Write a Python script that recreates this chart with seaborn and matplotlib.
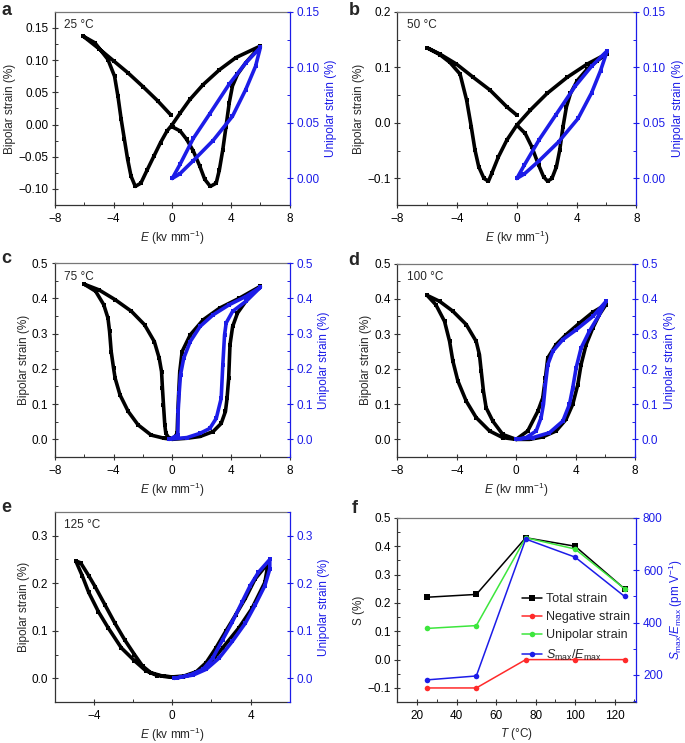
import numpy as np
import pandas as pd
import matplotlib
matplotlib.use("Agg")
import matplotlib.pyplot as plt
from matplotlib.ticker import AutoMinorLocator, MultipleLocator, FuncFormatter
from matplotlib.lines import Line2D
import seaborn as sns

BLUE = "#1c1ce8"

# ---- panel a, 25 C (bipolar loop path, unipolar loop path) ----
a_bi_E = [0.04, 0.54, 0.98, 1.43, 1.88, 2.21, 2.59, 2.99, 3.21, 3.44, 3.66, 3.88, 4.1, 4.44, 5.0, 6.0,
          4.33, 3.21, 2.1, 1.2, 0.54, 0.0, -0.36, -0.8, -1.25, -1.7, -2.14, -2.52, -2.81, -3.04, -3.26,
          -3.48, -3.7, -3.93, -4.38, -5.27, -6.05,
          -5.0, -4.0, -3.0, -2.0, -1.0, -0.1]
a_bi_S = [-0.004, -0.01, -0.023, -0.041, -0.065, -0.085, -0.096, -0.091, -0.07, -0.039, -0.003, 0.034, 0.06, 0.078, 0.096, 0.122,
          0.104, 0.085, 0.062, 0.039, 0.018, 0.0, -0.01, -0.028, -0.049, -0.07, -0.091, -0.096, -0.08, -0.054, -0.023,
          0.008, 0.044, 0.075, 0.101, 0.127, 0.137,
          0.118, 0.099, 0.080, 0.059, 0.037, 0.015]
a_uni_E = [0, 0.5, 1.43, 2.77, 4.1, 5.0, 5.67, 6.0, 5.0, 3.88, 2.54, 1.43, 0.54, 0]
a_uni_S = [0, 0.004, 0.016, 0.034, 0.056, 0.08, 0.101, 0.118, 0.104, 0.085, 0.058, 0.036, 0.013, 0]

# ---- panel b, 50 C ----
b_bi_E = [0, 0.56, 1.0, 1.46, 1.79, 2.06, 2.35, 2.65, 2.87, 3.09, 3.32, 3.59, 4.04, 4.71, 5.38, 6.05,
          4.71, 3.36, 2.02, 0.9, 0, -0.67, -1.23, -1.68, -1.9, -2.2, -2.55, -2.8, -3.05, -3.36, -3.8,
          -4.48, -5.15, -5.98,
          -5.15, -4.04, -2.91, -1.79, -0.67, 0]
b_bi_S = [-0.004, -0.019, -0.043, -0.076, -0.097, -0.105, -0.1, -0.079, -0.049, -0.007, 0.029, 0.053, 0.076, 0.097, 0.112, 0.125,
          0.106, 0.082, 0.053, 0.023, -0.004, -0.031, -0.061, -0.091, -0.105, -0.1, -0.079, -0.049, -0.007, 0.041, 0.088,
          0.109, 0.123, 0.135,
          0.124, 0.106, 0.082, 0.059, 0.029, 0.014]
b_uni_E = [0, 0.5, 1.5, 2.8, 4.1, 5.0, 5.6, 6.05, 5.0, 3.9, 2.6, 1.5, 0.5, 0]
b_uni_S = [0, 0.004, 0.016, 0.033, 0.054, 0.077, 0.097, 0.115, 0.101, 0.083, 0.057, 0.035, 0.012, 0]

# ---- panel c, 75 C ----
c_bi_E = [0, 1.0, 1.89, 2.78, 3.33, 3.62, 3.73, 3.84, 3.93, 4.11, 4.44, 5.0, 6.0,
          4.56, 3.22, 2.11, 1.22, 0.67, 0.51, 0.44, 0.38, 0.33, 0.11, 0,
          -0.56, -1.44, -2.33, -3.0, -3.56, -3.89, -4.0, -4.16, -4.27, -4.38, -4.67, -5.22, -6.0,
          -5.0, -3.89, -2.78, -1.89, -1.22, -0.89, -0.73, -0.67, -0.6, -0.51, -0.44, -0.22, 0]
c_bi_S = [0, 0.003, 0.008, 0.022, 0.045, 0.079, 0.116, 0.173, 0.268, 0.32, 0.358, 0.391, 0.434,
          0.40, 0.372, 0.339, 0.296, 0.249, 0.192, 0.135, 0.079, 0.017, 0.003, 0,
          0.003, 0.012, 0.041, 0.079, 0.126, 0.173, 0.202, 0.249, 0.306, 0.344, 0.382, 0.42, 0.44,
          0.424, 0.396, 0.363, 0.325, 0.277, 0.23, 0.192, 0.145, 0.098, 0.041, 0.017, 0.003, 0]
c_uni_E = [-0.22, 1.0, 1.89, 2.56, 3.0, 3.33, 3.44, 3.56, 3.67, 4.11, 5.0, 6.0,
           5.0, 3.89, 2.78, 1.89, 1.22, 0.78, 0.56, 0.47, 0.4, 0.38, -0.22]
c_uni_S = [0, 0.005, 0.017, 0.031, 0.06, 0.116, 0.211, 0.296, 0.33, 0.363, 0.391, 0.431,
           0.405, 0.382, 0.353, 0.32, 0.277, 0.23, 0.183, 0.131, 0.079, 0.012, 0]

# ---- panel d, 100 C ----
d_bi_E = [0, 0.9, 1.79, 2.69, 3.36, 3.81, 4.15, 4.37, 4.71, 5.16, 5.6, 6.05,
          5.16, 4.26, 3.36, 2.69, 2.13, 1.97, 1.79, 1.46, 0.78, 0,
          -0.9, -1.79, -2.69, -3.36, -3.92, -4.26, -4.48, -4.82, -5.4, -5.99,
          -5.15, -4.26, -3.36, -2.69, -2.47, -2.35, -2.2, -2.02, -1.57, -0.9, 0]
d_bi_S = [0, 0.0, 0.007, 0.024, 0.057, 0.1, 0.156, 0.213, 0.27, 0.317, 0.355, 0.384,
          0.362, 0.331, 0.298, 0.27, 0.232, 0.175, 0.118, 0.08, 0.024, 0,
          0.005, 0.024, 0.062, 0.109, 0.166, 0.223, 0.279, 0.336, 0.383, 0.41,
          0.393, 0.365, 0.327, 0.279, 0.241, 0.194, 0.137, 0.09, 0.052, 0.014, 0]
d_uni_E = [0, 1.12, 2.24, 3.14, 3.59, 3.81, 4.04, 4.37, 4.93, 5.6, 6.05,
           5.16, 4.04, 3.14, 2.47, 2.13, 1.97, 1.84, 1.68, 1.35, 0.67, 0]
d_uni_S = [0, 0.005, 0.019, 0.052, 0.1, 0.147, 0.204, 0.26, 0.308, 0.355, 0.393,
           0.35, 0.312, 0.284, 0.251, 0.213, 0.156, 0.1, 0.062, 0.024, 0.005, 0]

# ---- panel e, 125 C ----
e_bi_E = [0, 0.57, 1.23, 1.9, 2.57, 3.4, 4.07, 4.73, 4.9,
          4.23, 3.73, 3.23, 2.73, 2.23, 1.73, 1.23, 0.6, 0,
          -0.77, -1.35, -1.93, -2.6, -3.27, -3.77, -4.27, -4.6, -4.93,
          -4.68, -4.27, -3.93, -3.43, -2.93, -2.43, -1.93, -1.52, -1.1, -0.43, 0]
e_bi_S = [0.002, 0.003, 0.012, 0.03, 0.064, 0.106, 0.147, 0.202, 0.243,
          0.209, 0.168, 0.133, 0.099, 0.064, 0.033, 0.014, 0.005, 0.003,
          0.006, 0.016, 0.037, 0.064, 0.106, 0.14, 0.181, 0.216, 0.247,
          0.243, 0.216, 0.192, 0.154, 0.116, 0.081, 0.05, 0.026, 0.012, 0.004, 0.003]
e_uni_E = [0.1, 1.07, 1.73, 2.4, 3.07, 3.73, 4.23, 4.73, 4.98, 4.98,
           4.4, 3.98, 3.57, 3.07, 2.57, 2.07, 1.57, 0.9, 0.23]
e_uni_S = [0, 0.007, 0.019, 0.043, 0.078, 0.116, 0.154, 0.195, 0.23, 0.25,
           0.223, 0.195, 0.161, 0.119, 0.081, 0.043, 0.019, 0.007, 0.001]

# ---- panel f ----
temps = [25, 50, 75, 100, 125]
total_strain = [0.22, 0.23, 0.43, 0.40, 0.25]
negative_strain = [-0.10, -0.10, 0.0, 0.0, 0.0]
unipolar_strain = [0.11, 0.12, 0.43, 0.39, 0.25]
d33_star = [181, 196, 719, 650, 500]

sns.set_style("ticks")
plt.rcParams["font.family"] = ["Liberation Sans", "DejaVu Sans"]
plt.rcParams["mathtext.fontset"] = "custom"
plt.rcParams["mathtext.rm"] = "Liberation Sans"
plt.rcParams["mathtext.it"] = "Liberation Sans:italic"
plt.rcParams["axes.unicode_minus"] = True

FS = 8.5


def fmt(decimals):
    def _f(v, pos):
        if abs(v) < 1e-9:
            v = 0.0
        s = f"{v:.{decimals}f}"
        return s.replace("-", "\u2212")
    return FuncFormatter(_f)


def style_axes(ax, twin):
    for name, sp in ax.spines.items():
        sp.set_color("#333333")
        sp.set_linewidth(0.9)
    ax.spines["top"].set_color("#777777")
    ax.spines["right"].set_visible(False)
    for name in ["left", "top", "bottom"]:
        twin.spines[name].set_visible(False)
    twin.spines["right"].set_color(BLUE)
    twin.spines["right"].set_linewidth(0.9)
    ax.tick_params(which="major", direction="inout", length=4.5, width=0.8, pad=2.5,
                   labelsize=FS, colors="#333333", labelcolor="black")
    ax.tick_params(which="minor", direction="in", length=2.2, width=0.7, colors="#333333")
    twin.tick_params(which="major", direction="inout", length=4.5, width=0.8, pad=2.5,
                     labelsize=FS, colors=BLUE, labelcolor=BLUE)
    twin.tick_params(which="minor", direction="in", length=2.2, width=0.7, colors=BLUE)
    ax.tick_params(axis="x", which="major", pad=3.5)
    for a in (ax, twin):
        a.yaxis.set_minor_locator(AutoMinorLocator(2))
    ax.xaxis.set_minor_locator(AutoMinorLocator(2))


def loop(ax, E, S, color):
    df = pd.DataFrame({"E": E, "S": S})
    sns.lineplot(data=df, x="E", y="S", sort=False, estimator=None, ax=ax,
                 color=color, lw=2.6, marker="s", markersize=3.2,
                 markeredgewidth=0, legend=False)


def strain_panel(rect, bi_E, bi_S, uni_E, uni_S, xlim, xmaj, ylim_l, ymaj_l, dec_l,
                 ylim_r, ymaj_r, dec_r, temp):
    ax = fig.add_axes(rect)
    twin = ax.twinx()
    loop(ax, bi_E, bi_S, "black")
    loop(twin, uni_E, uni_S, BLUE)
    ax.set_xlim(*xlim)
    ax.set_ylim(*ylim_l)
    twin.set_ylim(*ylim_r)
    ax.xaxis.set_major_locator(MultipleLocator(xmaj))
    ax.yaxis.set_major_locator(MultipleLocator(ymaj_l))
    twin.yaxis.set_major_locator(MultipleLocator(ymaj_r))
    ax.yaxis.set_major_formatter(fmt(dec_l))
    twin.yaxis.set_major_formatter(fmt(dec_r))
    ax.xaxis.set_major_formatter(fmt(0))
    style_axes(ax, twin)
    ax.set_xlabel("$E$ (kv mm$^{-1}$)", fontsize=FS, labelpad=2.5)
    ax.set_ylabel("Bipolar strain (%)", fontsize=FS, labelpad=1.5)
    twin.set_ylabel("Unipolar strain (%)", fontsize=FS, color=BLUE, labelpad=4)
    ax.text(0.04, 0.93, f"{temp}\u00b0C", transform=ax.transAxes, fontsize=FS,
            va="center", ha="left")
    return ax, twin


fig = plt.figure(figsize=(6.85, 7.43), dpi=100)

strain_panel([0.080, 0.724, 0.343, 0.260], a_bi_E, a_bi_S, a_uni_E, a_uni_S,
             (-8, 8), 4, (-0.125, 0.175), 0.05, 2, (-0.024, 0.15), 0.05, 2, "25 ")
strain_panel([0.580, 0.724, 0.349, 0.260], b_bi_E, b_bi_S, b_uni_E, b_uni_S,
             (-8, 8), 4, (-0.148, 0.2), 0.1, 1, (-0.024, 0.15), 0.05, 2, "50 ")
strain_panel([0.080, 0.385, 0.343, 0.261], c_bi_E, c_bi_S, c_uni_E, c_uni_S,
             (-8, 8), 4, (-0.05, 0.5), 0.1, 1, (-0.05, 0.5), 0.1, 1, "75 ")
strain_panel([0.580, 0.385, 0.347, 0.260], d_bi_E, d_bi_S, d_uni_E, d_uni_S,
             (-8, 8), 4, (-0.05, 0.5), 0.1, 1, (-0.05, 0.5), 0.1, 1, "100 ")
strain_panel([0.080, 0.055, 0.343, 0.256], e_bi_E, e_bi_S, e_uni_E, e_uni_S,
             (-6, 6), 4, (-0.05, 0.35), 0.1, 1, (-0.05, 0.35), 0.1, 1, "125 ")

# ---- panel f ----
axf = fig.add_axes([0.580, 0.055, 0.349, 0.248])
twf = axf.twinx()
fdf = pd.DataFrame({"T": temps, "total": total_strain, "neg": negative_strain,
                    "uni": unipolar_strain, "d33": d33_star})
series = [("total", "black", "s", "Total strain"),
          ("neg", "#ff2a2a", "o", "Negative strain"),
          ("uni", "#3de63d", "o", "Unipolar strain")]
handles = []
for col, color, mk, lab in series:
    sns.lineplot(data=fdf, x="T", y=col, ax=axf, color=color, marker=mk, markersize=4,
                 markeredgewidth=0, lw=1.1, legend=False)
    handles.append(Line2D([], [], color=color, marker=mk, markersize=4, markeredgewidth=0,
                          lw=1.1, label=lab))
sns.lineplot(data=fdf, x="T", y="d33", ax=twf, color=BLUE, marker="o", markersize=4,
             markeredgewidth=0, lw=1.1, legend=False)
handles.append(Line2D([], [], color=BLUE, marker="o", markersize=4, markeredgewidth=0,
                      lw=1.1, label="$S_{\\rm max}/E_{\\rm max}$"))

axf.set_xlim(10, 131)
axf.set_ylim(-0.15, 0.5)
twf.set_ylim(96, 800)
axf.xaxis.set_major_locator(MultipleLocator(20))
axf.yaxis.set_major_locator(MultipleLocator(0.1))
twf.yaxis.set_major_locator(MultipleLocator(200))
axf.yaxis.set_major_formatter(fmt(1))
style_axes(axf, twf)
axf.set_xlabel("$T$ (\u00b0C)", fontsize=FS, labelpad=2.5)
axf.set_ylabel("S (%)", fontsize=FS, labelpad=2)
twf.set_ylabel("$S_{\\rm max}/E_{\\rm max}$ (pm V$^{-1}$)", fontsize=FS, color=BLUE, labelpad=3)
axf.legend(handles=handles, loc="upper left", bbox_to_anchor=(0.5, 0.62), frameon=False,
           fontsize=9, handlelength=1.6, handletextpad=0.3, labelspacing=0.5,
           borderaxespad=0)

# panel letters
for letter, x, y in [("a", 1, 2), ("b", 349, 2), ("c", 1, 250), ("d", 348, 252),
                     ("e", 1, 499), ("f", 352, 500)]:
    fig.text(x / 685, 1 - y / 743, letter, fontsize=13, fontweight="bold", va="top", ha="left")

fig.savefig("out.png", dpi=100)
